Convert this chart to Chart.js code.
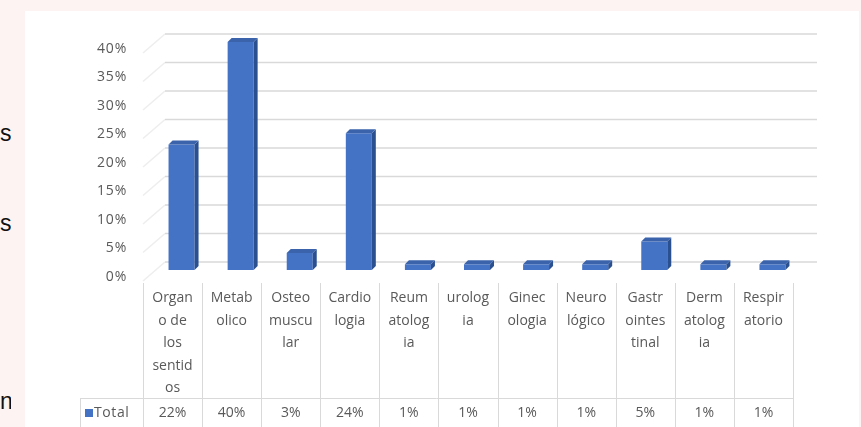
<!DOCTYPE html>
<html>
<head>
<meta charset="utf-8">
<script src="https://cdn.jsdelivr.net/npm/chart.js@4"></script>
<style>
    html, body { margin: 0; padding: 0; }
    body { width: 861px; height: 427px; background: #fdf3f3; position: relative; overflow: hidden; font-family: "Liberation Sans", Arial, sans-serif; }
    .frag { position: absolute; left: 0; width: 11px; text-align: right; font-size: 23px; color: #111; line-height: 1; overflow: hidden; }
    #chartBox { position: absolute; left: 25px; top: 11px; width: 834px; height: 416px; background: #fff; }
</style>
</head>
<body>
<div class="frag" style="top:122px">s</div>
<div class="frag" style="top:212px">s</div>
<div class="frag" style="top:390px">n</div>
<div id="chartBox"><canvas id="diagChart"></canvas></div>
<script>
// categories as wrapped in the data table
const categories = [
    ['Organ', 'o de', 'los', 'sentid', 'os'],
    ['Metab', 'olico'],
    ['Osteo', 'muscu', 'lar'],
    ['Cardio', 'logia'],
    ['Reum', 'atolog', 'ia'],
    ['urolog', 'ia'],
    ['Ginec', 'ologia'],
    ['Neuro', 'lógico'],
    ['Gastr', 'ointes', 'tinal'],
    ['Derm', 'atolog', 'ia'],
    ['Respir', 'atorio']
];
const totals = [22, 40, 3, 24, 1, 1, 1, 1, 5, 1, 1];
const yTicks = [0, 5, 10, 15, 20, 25, 30, 35, 40];
const seriesName = 'Total';

const TEXT = '#595959';
const GRID = '#d9d9d9';
const FRONT = '#4472c4';
const SIDE = '#2b5090';
const TOP = '#3a63ab';

// 3d look: bars sit in front of the floor, faces pushed back up-right
const shift = { x: 9, y: -7 };
const depth = { x: 4, y: 4 };
const wall = { x: 22, y: 15 };

const fontTxt = '14px "Open Sans", "Liberation Sans", sans-serif';

const excel3d = {
    id: 'excel3d',
    beforeDatasetsDraw(chart) {
        const { ctx, chartArea, scales: { y } } = chart;
        ctx.save();
        ctx.lineWidth = 1.6;
        yTicks.forEach(t => {
            const py = y.getPixelForValue(t);
            // side wall
            ctx.strokeStyle = '#eeeeee';
            ctx.beginPath();
            ctx.moveTo(chartArea.left, py + 4);
            ctx.lineTo(chartArea.left + wall.x, py - wall.y);
            ctx.stroke();
            // back wall
            ctx.strokeStyle = GRID;
            ctx.beginPath();
            ctx.moveTo(chartArea.left + wall.x, py - wall.y);
            ctx.lineTo(chartArea.right + 24, py - wall.y);
            ctx.stroke();
        });
        ctx.restore();

        ctx.save();
        ctx.translate(shift.x, shift.y);
    },
    afterDatasetsDraw(chart) {
        const { ctx } = chart;
        const meta = chart.getDatasetMeta(0);
        meta.data.forEach(bar => {
            const { x, y, base, width } = bar.getProps(['x', 'y', 'base', 'width'], true);
            const l = x - width / 2, r = x + width / 2;
            ctx.fillStyle = SIDE;
            ctx.beginPath();
            ctx.moveTo(r, y);
            ctx.lineTo(r + depth.x, y - depth.y);
            ctx.lineTo(r + depth.x, base - depth.y);
            ctx.lineTo(r, base);
            ctx.closePath();
            ctx.fill();
            ctx.fillStyle = TOP;
            ctx.beginPath();
            ctx.moveTo(l, y);
            ctx.lineTo(l + depth.x, y - depth.y);
            ctx.lineTo(r + depth.x, y - depth.y);
            ctx.lineTo(r, y);
            ctx.closePath();
            ctx.fill();
        });
        ctx.restore();
    },
    afterDraw(chart) {
        const { ctx, chartArea, scales: { x, y } } = chart;
        const colW = (chartArea.right - chartArea.left) / categories.length;
        const tableTop = chartArea.bottom + 6;
        const rowY = chartArea.bottom + 121;
        const bottom = chart.height;

        ctx.save();
        ctx.font = fontTxt;
        ctx.fillStyle = TEXT;

        // y axis labels
        ctx.textAlign = 'right';
        ctx.textBaseline = 'middle';
        ctx.letterSpacing = '0.8px';
        yTicks.forEach(t => {
            ctx.fillText(t + '%', chartArea.left - 16, y.getPixelForValue(t));
        });
        ctx.letterSpacing = '0px';

        // data table grid
        ctx.strokeStyle = GRID;
        ctx.lineWidth = 1;
        for (let i = 0; i <= categories.length; i++) {
            const px = Math.round(chartArea.left + i * colW) + 0.5;
            ctx.beginPath();
            ctx.moveTo(px, tableTop);
            ctx.lineTo(px, bottom);
            ctx.stroke();
        }
        ctx.beginPath();
        ctx.moveTo(chartArea.left - 63, rowY + 0.5);
        ctx.lineTo(chartArea.right, rowY + 0.5);
        ctx.moveTo(chartArea.left - 63 + 0.5, rowY);
        ctx.lineTo(chartArea.left - 63 + 0.5, bottom);
        ctx.stroke();

        // category names
        ctx.textAlign = 'center';
        categories.forEach((lines, i) => {
            const cx = x.getPixelForValue(i);
            lines.forEach((s, k) => {
                ctx.fillText(s, cx, chartArea.bottom + 21 + k * 22.6);
            });
        });

        // series row
        const vy = rowY + 15;
        totals.forEach((v, i) => {
            ctx.fillText(v + '%', x.getPixelForValue(i), vy);
        });
        ctx.fillStyle = FRONT;
        ctx.fillRect(chartArea.left - 58, vy - 4, 8, 8);
        ctx.fillStyle = TEXT;
        ctx.textAlign = 'left';
        ctx.letterSpacing = '0.6px';
        ctx.fillText(seriesName, chartArea.left - 49, vy);
        ctx.restore();
    }
};

new Chart(document.getElementById('diagChart'), {
    type: 'bar',
    data: {
        labels: categories,
        datasets: [{
            label: seriesName,
            data: totals,
            backgroundColor: FRONT,
            barPercentage: 0.44,
            categoryPercentage: 1
        }]
    },
    options: {
        responsive: true,
        maintainAspectRatio: false,
        animation: false,
        layout: { padding: { left: 118, right: 66, top: 38, bottom: 150 } },
        plugins: { legend: { display: false }, tooltip: { enabled: false } },
        scales: {
            x: { display: false },
            y: { display: false, min: 0, max: 40 }
        }
    },
    plugins: [excel3d]
});
</script>
</body>
</html>
